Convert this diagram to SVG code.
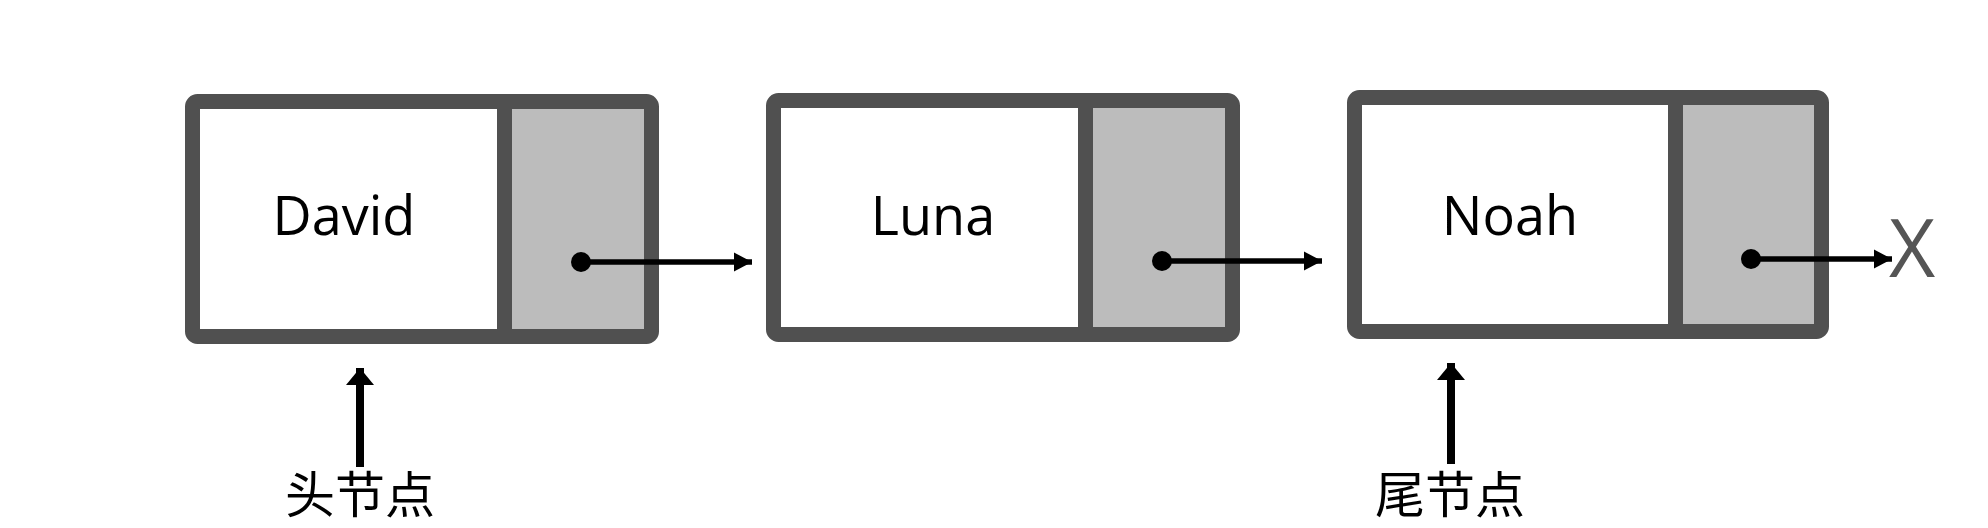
<svg xmlns="http://www.w3.org/2000/svg" width="1988" height="528" viewBox="0 0 1988 528">
  <style>
    .frame { fill: none; stroke: #505050; stroke-width: 15; }
    .data { fill: #ffffff; }
    .ptr { fill: #bcbcbc; }
    .div { stroke: #505050; stroke-width: 15; }
    .label { font-family: "Open Sans", "Noto Sans", sans-serif; font-size: 54px; fill: #000; text-anchor: middle; }
    .cn { font-family: "Noto Sans CJK SC", "Noto Sans", sans-serif; font-size: 50px; fill: #000; text-anchor: middle; }
    .link { stroke: #000; stroke-width: 5.5; fill: none; }
    .dot { fill: #000; }
    .up { stroke: #000; stroke-width: 8; fill: none; }
    .nil { font-family: "Open Sans", "Noto Sans", sans-serif; font-size: 80px; fill: #555555; }
  </style>
  <defs>
    <marker id="ah" markerUnits="userSpaceOnUse" markerWidth="20" markerHeight="20" refX="18" refY="10" orient="auto">
      <path d="M0,0.5 L18,10 L0,19.5 Z" fill="#000"/>
    </marker>
    <marker id="ahUp" markerUnits="userSpaceOnUse" markerWidth="30" markerHeight="30" refX="17" refY="15" orient="auto">
      <path d="M0,1 L17,15 L0,29 Z" fill="#000"/>
    </marker>
  </defs>
  <rect width="1988" height="528" fill="#ffffff"/>

  <g id="node-david">
    <rect class="data" x="192.5" y="101.5" width="312" height="235"/>
    <rect class="ptr" x="504.5" y="101.5" width="147" height="235"/>
    <rect class="frame" x="192.5" y="101.5" width="459" height="235" rx="5"/>
    <line class="div" x1="504.5" y1="101.5" x2="504.5" y2="336.5"/>
    <text class="label" x="344" y="235">David</text>
    <circle class="dot" cx="581" cy="262" r="10"/>
  </g>

  <g id="node-luna">
    <rect class="data" x="773.5" y="100.5" width="312" height="234"/>
    <rect class="ptr" x="1085.5" y="100.5" width="147" height="234"/>
    <rect class="frame" x="773.5" y="100.5" width="459" height="234" rx="5"/>
    <line class="div" x1="1085.5" y1="100.5" x2="1085.5" y2="334.5"/>
    <text class="label" x="933" y="235">Luna</text>
    <circle class="dot" cx="1162" cy="261" r="10"/>
  </g>

  <g id="node-noah">
    <rect class="data" x="1354.5" y="97.5" width="321" height="234"/>
    <rect class="ptr" x="1675.5" y="97.5" width="146" height="234"/>
    <rect class="frame" x="1354.5" y="97.5" width="467" height="234" rx="5"/>
    <line class="div" x1="1675.5" y1="97.5" x2="1675.5" y2="331.5"/>
    <text class="label" x="1510" y="235">Noah</text>
    <circle class="dot" cx="1751" cy="259" r="10"/>
  </g>

  <g id="null-end">
    <text class="nil" x="1889" y="277">X</text>
  </g>

  <g id="head-label">
    <text class="cn" x="360" y="513">头节点</text>
  </g>
  <g id="tail-label">
    <text class="cn" x="1450" y="513">尾节点</text>
  </g>

  <g id="connectors">
    <line class="link" x1="581" y1="262" x2="752" y2="262" marker-end="url(#ah)"/>
    <line class="link" x1="1162" y1="261" x2="1322" y2="261" marker-end="url(#ah)"/>
    <line class="link" x1="1751" y1="259" x2="1892" y2="259" marker-end="url(#ah)"/>
    <line class="up" x1="360" y1="467" x2="360" y2="368" marker-end="url(#ahUp)"/>
    <line class="up" x1="1451" y1="464" x2="1451" y2="363" marker-end="url(#ahUp)"/>
  </g>
</svg>
